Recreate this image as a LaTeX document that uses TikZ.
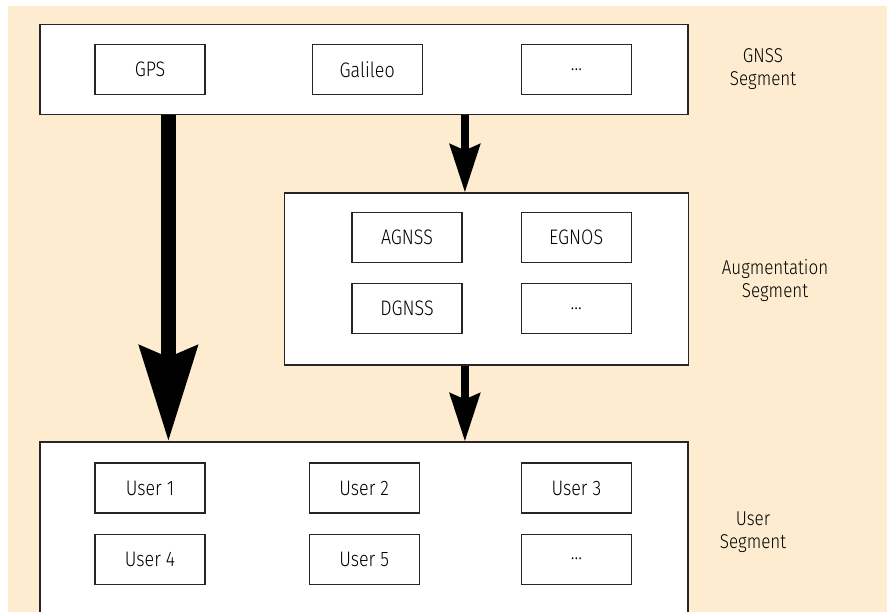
\documentclass[tikz,border=0pt]{standalone}
\usepackage{fontspec}
\setmainfont{Fira Sans}[UprightFont={* Light}, FakeStretch=0.85]
\usepackage{xcolor}
\usepackage{tikz}
\usetikzlibrary{arrows.meta, positioning, calc}
\definecolor{bgpeach}{RGB}{253,236,208}
\tikzset{
  segbox/.style={rectangle, draw=black!85, fill=white, line width=1.2pt, minimum width=648pt},
  itembox/.style={rectangle, draw=black!85, fill=white, line width=1.2pt, minimum width=110pt, minimum height=50pt, font=\fontsize{21}{24}\selectfont, inner sep=0pt},
  seglabel/.style={align=center, font=\fontsize{20}{23}\selectfont, inner sep=0pt},
  bigarr/.style={-{Stealth[length=95pt, width=57pt, inset=11pt]}, line width=15pt},
  smallarr/.style={-{Stealth[length=48pt, width=30pt, inset=6pt]}, line width=8pt},
}

\begin{document}
\begin{tikzpicture}[x=1pt, y=-1pt, node distance=20pt and 100pt]
  \clip (0,0) rectangle (887,612);
  \fill[bgpeach] (8,6) rectangle (887,612);

  % Segments
  \node[segbox, minimum height=90pt] (gnss) at (364,69.5) {};
  \node[segbox, minimum width=404pt, minimum height=172pt] (aug) at (486.5,279) {};
  \node[segbox, minimum height=180pt] (user) at (364,532) {};

  % GNSS segment
  \node[itembox] (gps) at (150,69.5) {GPS};
  \node[itembox, right=106pt of gps] (galileo) {Galileo};
  \node[itembox, right=98pt of galileo] (gnssmore) {...};

  % Augmentation segment
  \node[itembox] (agnss) at (407,237.5) {AGNSS};
  \node[itembox, right=58pt of agnss] (egnos) {EGNOS};
  \node[itembox, below=of agnss] (dgnss) {DGNSS};
  \node[itembox, below=of egnos] (augmore) {...};

  % User segment
  \node[itembox] (user1) at (150,488) {User 1};
  \node[itembox, right=103pt of user1] (user2) {User 2};
  \node[itembox, right=101pt of user2] (user3) {User 3};
  \node[itembox, below=of user1] (user4) {User 4};
  \node[itembox, below=of user2] (user5) {User 5};
  \node[itembox, below=of user3] (usermore) {...};

  % Labels
  \node[seglabel] (gnsslabel) at (763,69.5) {GNSS\\Segment};
  \node[seglabel] (auglabel) at (775,280.5) {Augmentation\\Segment};
  \node[seglabel] (userlabel) at (753,532) {User\\Segment};

  % Arrows
  \coordinate (direct) at ([xshift=129pt]user.north west);
  \coordinate (augin) at ([xshift=181pt]aug.north west);
  \draw[bigarr] (gnss.south -| direct) -- (direct);
  \draw[smallarr] (gnss.south -| augin) -- (augin);
  \draw[smallarr] (aug.south -| augin) -- (user.north -| augin);
\end{tikzpicture}
\end{document}
